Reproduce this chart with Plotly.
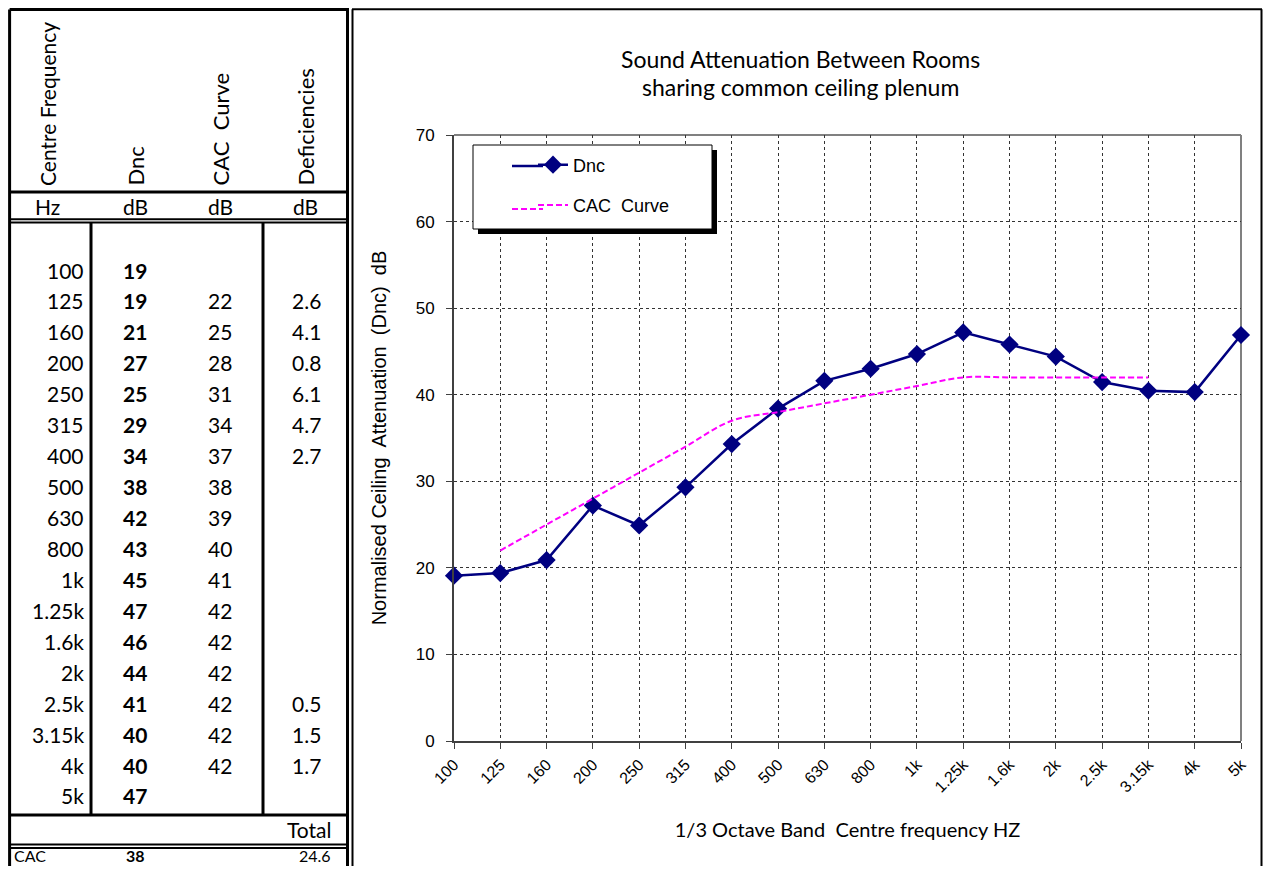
import plotly.graph_objects as go

# reference canvas is 1271x874; the page body keeps an 8px margin, so the figure
# is sized to fit inside it and reference pixels are shifted by that margin
REF_W, REF_H = 1271, 874
OFF = 8
W, H = REF_W - 2 * OFF, REF_H - 2 * OFF
BOTTOM = OFF + H   # last reference pixel row inside the figure

# ---------------- data ----------------
freq_labels = ["100", "125", "160", "200", "250", "315", "400", "500", "630", "800",
               "1k", "1.25k", "1.6k", "2k", "2.5k", "3.15k", "4k", "5k"]
dnc_measured = [19.1, 19.4, 20.9, 27.2, 24.9, 29.3, 34.3, 38.4, 41.6, 43.0,
                44.7, 47.2, 45.8, 44.4, 41.46, 40.46, 40.3, 46.9]
dnc_table = ["19", "19", "21", "27", "25", "29", "34", "38", "42", "43",
             "45", "47", "46", "44", "41", "40", "40", "47"]
cac_curve = [None, 22, 25, 28, 31, 34, 37, 38, 39, 40, 41, 42, 42, 42, 42, 42, 42, None]
deficiencies = [None, 2.6, 4.1, 0.8, 6.1, 4.7, 2.7, None, None, None,
                None, None, None, None, 0.5, 1.5, 1.7, None]
cac_rating = 38
deficiency_total = 24.6
chart_cac_end = "3.15k"   # CAC curve on chart drawn up to this band

TABLE_FONT = "Lato, 'Open Sans', sans-serif"
ARIAL = "Arial, 'Liberation Sans', sans-serif"


def px(x):
    return (x - OFF) / W


def py(y):
    return 1 - (y - OFF) / H


fig = go.Figure()

n_cac = freq_labels.index(chart_cac_end) + 1
fig.add_trace(go.Scatter(
    x=freq_labels, y=dnc_measured, name="Dnc", mode="lines+markers",
    line=dict(color="#000080", width=2.5),
    marker=dict(symbol="diamond", size=14, color="#000080"),
    cliponaxis=False, legendgroup="a"))
fig.add_trace(go.Scatter(
    x=freq_labels[:n_cac], y=cac_curve[:n_cac], name="CAC\u00a0 Curve", mode="lines",
    line=dict(color="#FF00FF", width=2, dash="6px,3px", shape="spline"),
    cliponaxis=False, legendgroup="b"))

shapes = []
ann = []


def hline(y, x0, x1, w=3, color="black", dash=None):
    ln = dict(color=color, width=w)
    if dash:
        ln["dash"] = dash
    shapes.append(dict(type="line", xref="paper", yref="paper",
                       x0=px(x0), x1=px(x1), y0=py(y), y1=py(y), line=ln))


def vline(x, y0, y1, w=3, color="black"):
    shapes.append(dict(type="line", xref="paper", yref="paper",
                       x0=px(x), x1=px(x), y0=py(y0), y1=py(y1),
                       line=dict(color=color, width=w)))


def text(x, y, s, xanchor="center", size=21, bold=False, angle=0, yanchor="middle",
         family=TABLE_FONT):
    ann.append(dict(x=px(x), y=py(y), xref="paper", yref="paper", text=s,
                    showarrow=False, xanchor=xanchor, yanchor=yanchor, textangle=angle,
                    font=dict(family=family, size=size, color="black",
                              weight="bold" if bold else "normal")))


# ---------------- table frame ----------------
vline(9.6, 9.5, BOTTOM)
vline(347.5, 9.5, BOTTOM)
hline(9.6, 9.6, 349)
hline(192, 9.6, 349)
hline(219.3, 9.6, 349, w=2)
hline(222.6, 9.6, 349, w=2)
vline(91, 222, 815)
vline(263, 222, 815)
hline(815, 9.6, 349)
hline(844.5, 9.6, 349, w=2)
hline(848, 9.6, 349, w=2)

# chart frame
vline(352.5, 9.2, BOTTOM, w=2)
vline(1261.5, 9.2, BOTTOM, w=2)
hline(9.2, 352, 1262, w=2)

# header
col_x = [47, 135, 220, 305]
headers = ["Centre Frequency", "Dnc", "CAC\u00a0 Curve", "Deficiencies"]
header_sizes = [21, 22, 22, 22]
units = ["Hz", "dB", "dB", "dB"]
for cx, h, hs in zip(col_x, headers, header_sizes):
    text(cx, 188, h, angle=-90, yanchor="bottom", size=hs)
for cx, u in zip(col_x, units):
    text(cx, 206, u)

row0, dy = 270.0, 30.94
for i, f in enumerate(freq_labels):
    y = row0 + i * dy
    text(86, y, f, xanchor="right")
    text(135, y, dnc_table[i], bold=True)
    if cac_curve[i] is not None:
        text(220, y, str(cac_curve[i]))
    if deficiencies[i] is not None:
        text(323, y, f"{deficiencies[i]:.1f}", xanchor="right")

text(333, 829, "Total", xanchor="right")
text(12, 855.5, "CAC", xanchor="left", size=16)
text(135, 855.5, str(cac_rating), bold=True, size=16)
text(333, 855.5, f"{deficiency_total:.1f}", xanchor="right", size=16)

# chart title (two lines)
text(800, 59, "Sound Attenuation Between Rooms", size=23)
text(800, 87, "sharing common ceiling plenum", size=23)

# legend box + shadow
shapes.append(dict(type="rect", xref="paper", yref="paper", x0=px(478), x1=px(717),
                   y0=py(150), y1=py(234), fillcolor="black", line=dict(width=0), layer="above"))
shapes.append(dict(type="rect", xref="paper", yref="paper", x0=px(473), x1=px(712),
                   y0=py(145), y1=py(229), fillcolor="white",
                   line=dict(color="black", width=1), layer="above"))
# legend sample extensions (left part of the sample lines)
hline(166, 512, 543, w=2.5, color="#000080")
hline(209, 512, 543, w=2, color="#FF00FF", dash="6px,3px")

# plot area border (top/right) gray
shapes.append(dict(type="line", xref="x domain", yref="y domain", x0=0, x1=1, y0=1, y1=1,
                   line=dict(color="#808080", width=2), layer="below"))
shapes.append(dict(type="line", xref="x domain", yref="y domain", x0=1, x1=1, y0=0, y1=1,
                   line=dict(color="#808080", width=2), layer="below"))

fig.update_layout(
    width=W, height=H, margin=dict(l=0, r=0, t=0, b=0, autoexpand=False),
    paper_bgcolor="white", plot_bgcolor="white",
    shapes=shapes, annotations=ann,
    showlegend=True,
    legend=dict(x=px(533), y=py(146.5), xanchor="left", yanchor="top",
                bgcolor="rgba(0,0,0,0)", borderwidth=0, tracegroupgap=14,
                font=dict(family=ARIAL, size=18, color="black")),
    xaxis=dict(domain=[px(454), px(1241)], type="category", range=[0, 17],
               automargin=False,
               showgrid=True, gridcolor="#333333", griddash="dot", gridwidth=1,
               showline=True, linecolor="#404040", linewidth=2,
               ticks="outside", ticklen=6, tickcolor="#404040", tickangle=-45,
               tickfont=dict(family=ARIAL, size=16, color="black"),
               title=dict(text="1/3 Octave Band\u00a0 Centre frequency HZ", standoff=28,
                          font=dict(family=TABLE_FONT, size=20, color="black")),
               zeroline=False),
    yaxis=dict(domain=[py(741), py(135)], range=[0, 70], dtick=10,
               automargin=False,
               showgrid=True, gridcolor="#333333", griddash="dot", gridwidth=1,
               showline=True, linecolor="#404040", linewidth=2,
               ticks="outside", ticklen=6, tickcolor="#404040", ticklabelstandoff=8,
               tickfont=dict(family=ARIAL, size=17, color="black"),
               title=dict(text="Normalised Ceiling\u00a0 Attenuation\u00a0 (Dnc)\u00a0 dB", standoff=24,
                          font=dict(family=ARIAL, size=20, color="black")),
               zeroline=False),
)

fig.write_html("out.html", config={"displayModeBar": False})
